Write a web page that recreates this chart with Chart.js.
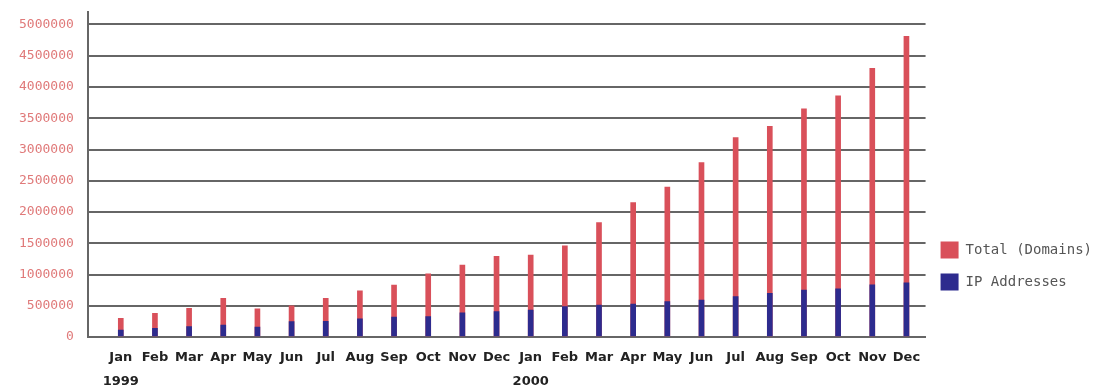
<!DOCTYPE html>
<html lang="en">
<head>
    <meta charset="UTF-8">
    <title>Domains and IP Addresses 1999-2000</title>
    <script src="https://cdn.jsdelivr.net/npm/chart.js"></script>
    <style>
        body { margin: 0; background: #fff; }
        #wrap { width: 1102px; height: 389px; position: relative; }
    </style>
</head>
<body>
<div id="wrap"><canvas id="domainChart"></canvas></div>

<script>
// months Jan 1999 .. Dec 2000
const months = ['Jan','Feb','Mar','Apr','May','Jun','Jul','Aug','Sep','Oct','Nov','Dec',
                'Jan','Feb','Mar','Apr','May','Jun','Jul','Aug','Sep','Oct','Nov','Dec'];
const years = { 0: '1999', 12: '2000' };

const totalDomains = [300000, 380000, 460000, 620000, 450000, 500000, 620000, 740000, 830000, 1010000, 1150000, 1290000,
                      1310000, 1460000, 1830000, 2150000, 2400000, 2790000, 3190000, 3370000, 3650000, 3860000, 4300000, 4810000];
const ipAddresses = [110000, 140000, 165000, 190000, 160000, 245000, 250000, 290000, 320000, 325000, 385000, 405000,
                     430000, 485000, 510000, 525000, 565000, 590000, 645000, 700000, 750000, 770000, 835000, 865000];

const yTicks = [0, 500000, 1000000, 1500000, 2000000, 2500000, 3000000, 3500000, 4000000, 4500000, 5000000];

const toPoints = arr => arr.map((v, i) => ({ x: i, y: v }));

new Chart(document.getElementById('domainChart'), {
    type: 'bar',
    data: {
        datasets: [
            { label: 'Total (Domains)', data: toPoints(totalDomains), backgroundColor: '#d9505a', order: 2 },
            { label: 'IP Addresses', data: toPoints(ipAddresses), backgroundColor: '#2d2b8e', order: 1 }
        ]
    },
    options: {
        responsive: true,
        maintainAspectRatio: false,
        animation: false,
        layout: { padding: { top: 12, left: 5, right: 0, bottom: 0 } },
        datasets: { bar: { barThickness: 5, grouped: false } },
        plugins: {
            tooltip: { enabled: false },
            legend: {
                position: 'right',
                align: 'start',
                title: { display: true, text: '', padding: { top: 200, bottom: 0 } },
                labels: {
                    boxWidth: 18, boxHeight: 17, padding: 15,
                    color: '#555',
                    font: { family: 'DejaVu Sans Mono', size: 14 },
                    sort: (a, b) => a.datasetIndex - b.datasetIndex
                }
            }
        },
        scales: {
            x: {
                type: 'linear',
                offset: false,
                min: -0.966, max: 23.56,
                afterBuildTicks: s => { s.ticks = months.map((m, i) => ({ value: i })); },
                afterFit: s => { s.height = 52; s.paddingLeft = 0; s.paddingRight = 0; },
                grid: { display: false },
                border: { color: '#666', width: 2 },
                ticks: {
                    autoSkip: false, maxRotation: 0, padding: 0,
                    color: '#222',
                    font: { family: 'DejaVu Sans', size: 13, weight: 'bold', lineHeight: 1.9 },
                    callback: v => years[v] ? [months[v], years[v]] : months[v]
                }
            },
            y: {
                min: 0, max: 5200000,
                afterBuildTicks: s => { s.ticks = yTicks.map(v => ({ value: v })); },
                afterFit: s => { s.paddingTop = 0; s.paddingBottom = 0; },
                grid: { color: '#666', lineWidth: 2, drawTicks: false },
                border: { color: '#666', width: 2 },
                ticks: {
                    padding: 14,
                    color: '#e07a7a',
                    font: { family: 'DejaVu Sans Mono', size: 13 },
                    callback: v => String(v)
                }
            }
        }
    }
});
</script>
</body>
</html>
